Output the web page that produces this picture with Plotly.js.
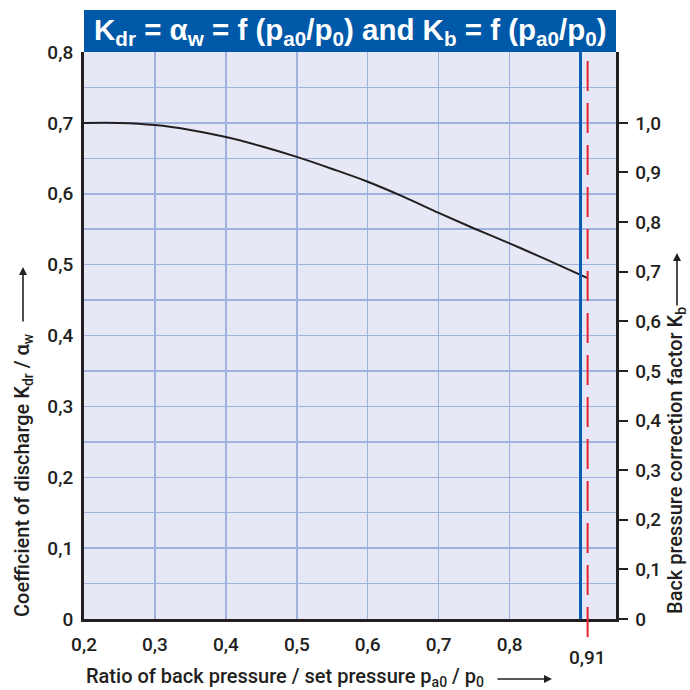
<!DOCTYPE html>
<html>
<head>
<meta charset="utf-8">
<script src="https://cdn.plot.ly/plotly-3.0.1.min.js"></script>
<style>
html,body{margin:0;padding:0;background:#fff;}
#chart{width:690px;height:690px;}
</style>
</head>
<body>
<div id="chart"></div>
<script>
// ---- data ----
const pressureRatio = [0.2, 0.25, 0.3, 0.35, 0.4, 0.45, 0.5, 0.55, 0.6, 0.65, 0.7, 0.75, 0.8, 0.85, 0.91];
const kdrValues     = [0.700, 0.700, 0.697, 0.690, 0.680, 0.667, 0.652, 0.635, 0.617, 0.596, 0.573, 0.551, 0.530, 0.508, 0.481];

const xTickVals = [0.2, 0.3, 0.4, 0.5, 0.6, 0.7, 0.8, 0.9];
const xTickText = ['0,2', '0,3', '0,4', '0,5', '0,6', '0,7', '0,8', ''];

const leftTickVals = [0, 0.05, 0.1, 0.15, 0.2, 0.25, 0.3, 0.35, 0.4, 0.45, 0.5, 0.55, 0.6, 0.65, 0.7, 0.75, 0.8];
const leftTickText = ['0', '', '0,1', '', '0,2', '', '0,3', '', '0,4', '', '0,5', '', '0,6', '', '0,7', '', '0,8'];

const rightTickVals = [0, 0.1, 0.2, 0.3, 0.4, 0.5, 0.6, 0.7, 0.8, 0.9, 1.0];
const rightTickText = ['0', '0,1', '0,2', '0,3', '0,4', '0,5', '0,6', '0,7', '0,8', '0,9', '1,0'];

const xRange = [0.2, 0.95];
const leftRange = [0, 0.8];
const kbAtKdr07 = 0.7;          // Kb = 1.0 corresponds to Kdr = 0.7
const limitRatio = 0.9;         // blue line
const markedRatio = 0.91;       // red dashed line
const markedLabel = '0,91';

const titleText = 'K<sub>dr</sub> = α<sub>w</sub> = f (p<sub>a0</sub>/p<sub>0</sub>) and K<sub>b</sub> = f (p<sub>a0</sub>/p<sub>0</sub>)';
const yTitleText = 'Coefficient of discharge K<sub>dr</sub> / α<sub>w</sub>';
const y2TitleText = 'Back pressure correction factor K<sub>b</sub>';
const xTitleText = 'Ratio of back pressure / set pressure p<sub>a0</sub> / p<sub>0</sub>';

// ---- style ----
const ink = '#231f20';
const gridCol = '#9fb2de';
const bgCol = '#e6e9f5';
const font = {family: 'Roboto, "Liberation Sans", sans-serif', size: 19, color: ink, weight: 500};
const titleFont = {family: 'Roboto, "Liberation Sans", sans-serif', size: 20, color: ink, weight: 500};

// plot area geometry (px)
const W = 690, H = 690, mL = 84, mR = 74, mT = 52, mB = 71;
const pw = W - mL - mR, ph = H - mT - mB;
const px2x = p => (p - mL) / pw;
const py2y = p => (H - mB - p) / ph;

const traces = [
  {x: pressureRatio, y: kdrValues, type: 'scatter', mode: 'lines',
   line: {color: ink, width: 2, shape: 'spline'}, hoverinfo: 'skip', showlegend: false},
  {x: [xRange[0]], y: [0], yaxis: 'y2', type: 'scatter', mode: 'markers',
   marker: {opacity: 0}, hoverinfo: 'skip', showlegend: false}
];

const layout = {
  width: W, height: H,
  margin: {l: mL, r: mR, t: mT, b: mB, pad: 0},
  paper_bgcolor: '#ffffff',
  plot_bgcolor: bgCol,
  font: font,
  showlegend: false,
  xaxis: {
    range: xRange, tickmode: 'array', tickvals: xTickVals, ticktext: xTickText,
    showgrid: true, gridcolor: gridCol, gridwidth: 1.5,
    zeroline: false, showline: true, linecolor: ink, linewidth: 3,
    ticks: 'outside', ticklen: 6, tickcolor: 'rgba(0,0,0,0)',
    tickfont: font, fixedrange: true
  },
  yaxis: {
    range: leftRange, tickmode: 'array', tickvals: leftTickVals, ticktext: leftTickText,
    showgrid: true, gridcolor: gridCol, gridwidth: 1.5,
    zeroline: false, showline: true, linecolor: ink, linewidth: 3,
    ticks: 'outside', ticklen: 4, tickcolor: 'rgba(0,0,0,0)',
    tickfont: font, fixedrange: true
  },
  yaxis2: {
    overlaying: 'y', side: 'right',
    range: [0, leftRange[1] / kbAtKdr07],
    tickmode: 'array', tickvals: rightTickVals, ticktext: rightTickText,
    showgrid: false, zeroline: false, showline: true, linecolor: ink, linewidth: 2.5,
    ticks: 'outside', ticklen: 9, tickwidth: 2, tickcolor: ink, ticklabelstandoff: 4,
    tickfont: font, fixedrange: true
  },
  shapes: [
    {type: 'rect', xref: 'paper', yref: 'paper', x0: 0, x1: 1, y0: 1, y1: 1 + 42 / ph,
     fillcolor: '#0058a8', line: {width: 0}, layer: 'above'},
    {type: 'line', xref: 'x', yref: 'paper', x0: limitRatio, x1: limitRatio, y0: 0, y1: 1,
     line: {color: '#0a5db3', width: 3}},
    {type: 'line', xref: 'x', yref: 'paper', x0: markedRatio, x1: markedRatio, y0: py2y(637), y1: 1,
     line: {color: '#e8222e', width: 2, dash: '30px,12px'}}
  ],
  annotations: [
    {text: titleText, xref: 'paper', yref: 'paper', x: 0.5, y: 1 + 21 / ph,
     xanchor: 'center', yanchor: 'middle', showarrow: false,
     font: {family: '"Liberation Sans Narrow", "Liberation Sans", sans-serif', size: 29.5, color: '#ffffff', weight: 700}},
    {text: yTitleText, xref: 'paper', yref: 'paper', x: px2x(23), y: py2y(475),
     xanchor: 'center', yanchor: 'middle', textangle: -90, showarrow: false, font: titleFont},
    {text: '', xref: 'paper', yref: 'paper', x: px2x(23), y: py2y(267),
     showarrow: true, ax: 0, ay: 56, arrowhead: 2, arrowsize: 1, arrowwidth: 1.6, arrowcolor: ink},
    {text: y2TitleText, xref: 'paper', yref: 'paper', x: px2x(676), y: py2y(461),
     xanchor: 'center', yanchor: 'middle', textangle: -90, showarrow: false, font: titleFont},
    {text: '', xref: 'paper', yref: 'paper', x: px2x(677), y: py2y(253),
     showarrow: true, ax: 0, ay: 54, arrowhead: 2, arrowsize: 1, arrowwidth: 1.6, arrowcolor: ink},
    {text: xTitleText, xref: 'paper', yref: 'paper', x: 0, y: py2y(677),
     xanchor: 'left', yanchor: 'middle', showarrow: false, font: titleFont},
    {text: '', xref: 'paper', yref: 'paper', x: px2x(552), y: py2y(679),
     showarrow: true, ax: -56, ay: 0, arrowhead: 2, arrowsize: 1, arrowwidth: 1.6, arrowcolor: ink},
    {text: markedLabel, xref: 'x', yref: 'paper', x: markedRatio, y: py2y(657),
     xanchor: 'center', yanchor: 'middle', showarrow: false, font: font}
  ]
};

Plotly.newPlot('chart', traces, layout, {displayModeBar: false, staticPlot: true});
</script>
</body>
</html>
